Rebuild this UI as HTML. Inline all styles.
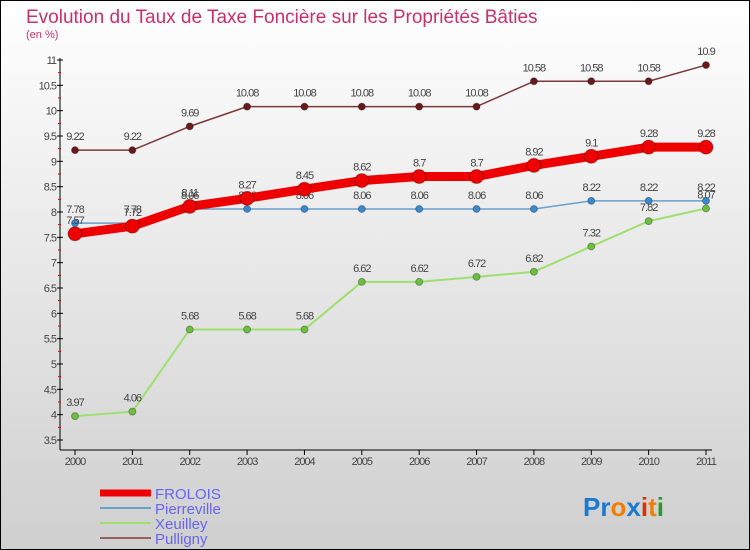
<!DOCTYPE html>
<html><head><meta charset="utf-8"><style>
body{margin:0;width:750px;height:550px;overflow:hidden;font-family:"Liberation Sans",sans-serif}
#wrap{position:absolute;left:0;top:0;width:748px;height:548px;border:1px solid #000;background:linear-gradient(#ffffff,#cfcfcf)}
</style></head><body>
<div id="wrap">
<svg id="chart" width="750" height="550" style="position:absolute;left:-1px;top:-1px">
<text x="26" y="23" font-size="19" fill="#c8306a">Evolution du Taux de Taxe Foncière sur les Propriétés Bâties</text>
<text x="26" y="38" font-size="11" fill="#c8306a">(en %)</text>
<g id="axes"></g><g id="series"></g><g id="legend"></g>
<text x="583" y="516" font-size="26" font-weight="bold"><tspan fill="#1a7ad0">Pr</tspan><tspan fill="#f08000">o</tspan><tspan fill="#1a7ad0">x</tspan><tspan fill="#e03000">i</tspan><tspan fill="#f08000">t</tspan><tspan fill="#2a9a30">i</tspan></text>
</svg></div>
<script>
const years=["2000","2001","2002","2003","2004","2005","2006","2007","2008","2009","2010","2011"];
const yTicks=[3.5,4,4.5,5,5.5,6,6.5,7,7.5,8,8.5,9,9.5,10,10.5,11];
const frolois=[7.57,7.72,8.11,8.27,8.45,8.62,8.7,8.7,8.92,9.1,9.28,9.28];
const pierreville=[7.78,7.78,8.06,8.06,8.06,8.06,8.06,8.06,8.06,8.22,8.22,8.22];
const xeuilley=[3.97,4.06,5.68,5.68,5.68,6.62,6.62,6.72,6.82,7.32,7.82,8.07];
const pulligny=[9.22,9.22,9.69,10.08,10.08,10.08,10.08,10.08,10.58,10.58,10.58,10.9];
const NS="http://www.w3.org/2000/svg";
function X(i){return 75+i*(706-75)/11;}
function Y(v){return 440-(v-3.5)*(380/7.5);}
function mk(t,a,p){const e=document.createElementNS(NS,t);for(const k in a)e.setAttribute(k,a[k]);p.appendChild(e);return e;}
const ax=document.getElementById('axes');
let l=mk('line',{x1:60,y1:58,x2:60,y2:450,stroke:'#000'},ax);


l=mk('line',{x1:60,y1:450,x2:712,y2:450,stroke:'#000'},ax);


yTicks.forEach((v,i)=>{
 mk('line',{x1:57,y1:Y(v),x2:63,y2:Y(v),stroke:'#000'},ax);
 if(i<yTicks.length-1)mk('line',{x1:58,y1:Y(v+0.25),x2:61,y2:Y(v+0.25),stroke:'#e00'},ax);
 const t=mk('text',{x:56,y:Y(v)+4,'font-size':11,'text-anchor':'end',fill:'#444','letter-spacing':'-1'},ax);
 t.textContent=v;
 
 
});
years.forEach((y,i)=>{
 mk('line',{x1:X(i),y1:450,x2:X(i),y2:455,stroke:'#000'},ax);
 const t=mk('text',{x:X(i),y:465,'font-size':11,'text-anchor':'middle',fill:'#444','letter-spacing':'-1'},ax);
 t.textContent=y;
 
 
});
const sg=document.getElementById('series');
const defs=[["pulligny",pulligny,'#7a3a3a','#6a1a1a',1.5,3.5],["xeuilley",xeuilley,'#9ee070','#6cc040',2,3.5],["pierreville",pierreville,'#6aa0cc','#3a8ad0',1.5,3.5],["frolois",frolois,'#ee0000','#ee0000',9,7]];
defs.forEach(([n,d,lc,pc,w,r])=>{
 const pl=mk('polyline',{points:d.map((v,i)=>X(i)+','+Y(v)).join(' '),fill:'none',stroke:lc,'stroke-width':w,'stroke-linejoin':'round'},sg);
 
 
 d.forEach((v,i)=>{
  const c=mk('circle',{cx:X(i),cy:Y(v),r:r,fill:pc,stroke:'rgba(0,0,0,0.3)'},sg);
  
  
  const t=mk('text',{x:X(i),y:Y(v)-10,'font-size':11,'text-anchor':'middle',fill:'#444','letter-spacing':'-1'},sg);
  t.textContent=v;
  
  
 });
});
const lg=document.getElementById('legend');
[["FROLOIS",'#ee0000',7],["Pierreville",'#6aa0cc',2],["Xeuilley",'#9ee070',2],["Pulligny",'#9a6060',2]].forEach(([n,c,w],i)=>{
 const y=493+i*15;
 mk('line',{x1:100,y1:y,x2:151,y2:y,stroke:c,'stroke-width':w},lg);
 const t=mk('text',{x:155,y:y+6,'font-size':15,fill:'#6666ee'},lg);
 t.textContent=n;
 
 
});
</script>
</body></html>
